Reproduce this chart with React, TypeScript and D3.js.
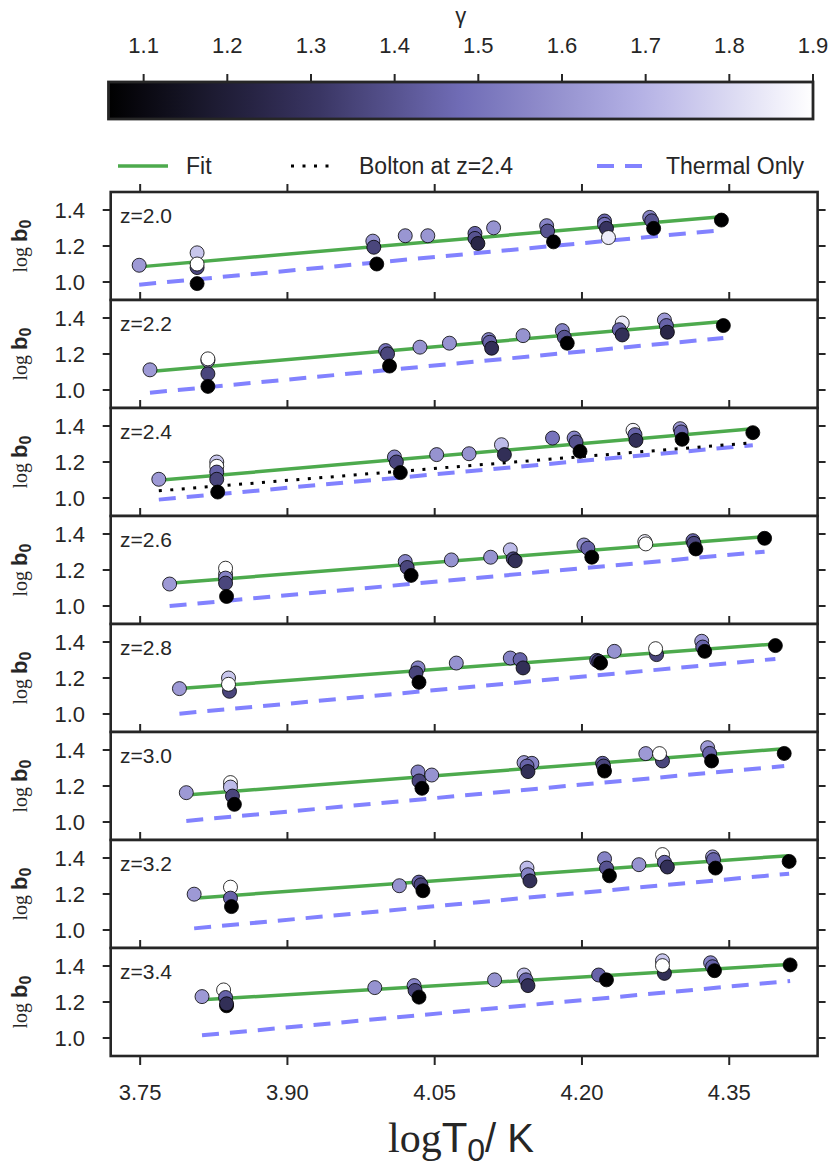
import * as d3 from 'd3';
import React from 'react';

// ---- data ----
const redshifts = ['2.0', '2.2', '2.4', '2.6', '2.8', '3.0', '3.2', '3.4'];
const xTicks = [3.75, 3.9, 4.05, 4.2, 4.35];
const yTicks = [1.0, 1.2, 1.4];
const gammaTicks = [1.1, 1.2, 1.3, 1.4, 1.5, 1.6, 1.7, 1.8, 1.9];

// each point: [log T0, log b0, gamma]
const z20: [number, number, number][] = [
  [3.749, 1.093, 1.62], [3.808, 1.162, 1.75], [3.808, 1.08, 1.36], [3.808, 1.1, 1.9], [3.808, 0.991, 1.06],
  [3.987, 1.227, 1.6], [3.988, 1.193, 1.36], [3.991, 1.1, 1.06],
  [4.02, 1.257, 1.61], [4.043, 1.257, 1.61],
  [4.091, 1.27, 1.45], [4.091, 1.242, 1.4], [4.094, 1.214, 1.24],
  [4.11, 1.301, 1.6],
  [4.164, 1.313, 1.55], [4.165, 1.283, 1.4], [4.171, 1.223, 1.06],
  [4.223, 1.339, 1.45], [4.223, 1.32, 1.5], [4.225, 1.298, 1.3], [4.227, 1.247, 1.85],
  [4.269, 1.359, 1.55], [4.271, 1.34, 1.4], [4.273, 1.298, 1.06],
  [4.342, 1.344, 1.06],
];
const z22: [number, number, number][] = [
  [3.76, 1.112, 1.62], [3.819, 1.164, 1.7], [3.819, 1.173, 1.9], [3.819, 1.09, 1.36], [3.819, 1.02, 1.06],
  [4.0, 1.219, 1.5], [4.002, 1.201, 1.36], [4.004, 1.133, 1.06],
  [4.035, 1.238, 1.6], [4.065, 1.26, 1.6],
  [4.105, 1.28, 1.55], [4.106, 1.265, 1.45], [4.108, 1.232, 1.28],
  [4.14, 1.302, 1.6],
  [4.18, 1.33, 1.55], [4.182, 1.293, 1.4], [4.185, 1.26, 1.06],
  [4.241, 1.372, 1.85], [4.238, 1.335, 1.45], [4.241, 1.306, 1.28],
  [4.284, 1.389, 1.62], [4.286, 1.358, 1.45], [4.287, 1.321, 1.24],
  [4.344, 1.358, 1.06],
];
const z24: [number, number, number][] = [
  [3.769, 1.104, 1.62], [3.828, 1.2, 1.75], [3.828, 1.176, 1.9], [3.828, 1.144, 1.45], [3.828, 1.104, 1.36], [3.829, 1.033, 1.06],
  [4.009, 1.228, 1.55], [4.011, 1.2, 1.36], [4.015, 1.141, 1.06],
  [4.052, 1.241, 1.6], [4.085, 1.246, 1.6],
  [4.118, 1.296, 1.72], [4.121, 1.241, 1.28],
  [4.17, 1.333, 1.5],
  [4.192, 1.333, 1.55], [4.194, 1.311, 1.4], [4.198, 1.259, 1.06],
  [4.252, 1.376, 1.88], [4.254, 1.352, 1.45], [4.255, 1.32, 1.28],
  [4.3, 1.385, 1.62], [4.301, 1.367, 1.45], [4.302, 1.326, 1.06],
  [4.374, 1.363, 1.06],
];
const z26: [number, number, number][] = [
  [3.78, 1.122, 1.62], [3.837, 1.177, 1.75], [3.837, 1.21, 1.9], [3.837, 1.155, 1.55], [3.837, 1.127, 1.36], [3.838, 1.053, 1.06],
  [4.02, 1.247, 1.55], [4.022, 1.214, 1.36], [4.026, 1.17, 1.06],
  [4.067, 1.256, 1.6], [4.107, 1.271, 1.6],
  [4.127, 1.312, 1.72], [4.13, 1.262, 1.36], [4.132, 1.251, 1.28],
  [4.202, 1.339, 1.6], [4.206, 1.321, 1.45], [4.21, 1.271, 1.06],
  [4.264, 1.358, 1.85], [4.265, 1.345, 1.9],
  [4.313, 1.363, 1.45], [4.314, 1.348, 1.36], [4.316, 1.317, 1.06],
  [4.386, 1.376, 1.06],
];
const z28: [number, number, number][] = [
  [3.79, 1.141, 1.62], [3.84, 1.2, 1.75], [3.841, 1.126, 1.36], [3.84, 1.165, 1.9],
  [4.033, 1.256, 1.55], [4.031, 1.228, 1.36], [4.034, 1.176, 1.06],
  [4.072, 1.283, 1.6],
  [4.127, 1.311, 1.55], [4.137, 1.302, 1.45], [4.14, 1.256, 1.28],
  [4.215, 1.298, 1.45], [4.217, 1.293, 1.3], [4.219, 1.283, 1.06],
  [4.233, 1.348, 1.6],
  [4.276, 1.33, 1.36], [4.275, 1.363, 1.9],
  [4.322, 1.404, 1.62], [4.323, 1.372, 1.45], [4.325, 1.348, 1.06],
  [4.397, 1.38, 1.06],
];
const z30: [number, number, number][] = [
  [3.797, 1.163, 1.62], [3.842, 1.219, 1.9], [3.842, 1.194, 1.72], [3.844, 1.144, 1.36], [3.846, 1.098, 1.06],
  [4.033, 1.278, 1.55], [4.034, 1.228, 1.36], [4.037, 1.187, 1.06],
  [4.047, 1.261, 1.6],
  [4.141, 1.33, 1.62], [4.149, 1.326, 1.55], [4.144, 1.311, 1.45], [4.145, 1.28, 1.28],
  [4.221, 1.326, 1.45], [4.222, 1.311, 1.36], [4.223, 1.283, 1.06],
  [4.265, 1.38, 1.62], [4.282, 1.339, 1.36], [4.279, 1.38, 1.9],
  [4.328, 1.413, 1.62], [4.33, 1.381, 1.45], [4.332, 1.339, 1.06],
  [4.406, 1.381, 1.06],
];
const z32: [number, number, number][] = [
  [3.805, 1.199, 1.62], [3.842, 1.238, 1.9], [3.842, 1.177, 1.45], [3.843, 1.13, 1.06],
  [4.014, 1.246, 1.6], [4.034, 1.266, 1.45], [4.036, 1.251, 1.36], [4.038, 1.218, 1.06],
  [4.144, 1.344, 1.72], [4.145, 1.307, 1.55], [4.147, 1.273, 1.28],
  [4.223, 1.396, 1.55], [4.225, 1.344, 1.4], [4.228, 1.301, 1.06],
  [4.258, 1.363, 1.6],
  [4.282, 1.419, 1.9], [4.284, 1.376, 1.45], [4.287, 1.35, 1.28],
  [4.333, 1.406, 1.62], [4.334, 1.391, 1.45], [4.336, 1.344, 1.06],
  [4.411, 1.381, 1.06],
];
const z34: [number, number, number][] = [
  [3.813, 1.23, 1.62], [3.835, 1.267, 1.9], [3.837, 1.225, 1.45], [3.838, 1.179, 1.06], [3.838, 1.19, 1.28],
  [3.989, 1.28, 1.6],
  [4.029, 1.291, 1.55], [4.03, 1.264, 1.36], [4.034, 1.227, 1.06],
  [4.111, 1.323, 1.6],
  [4.141, 1.35, 1.72], [4.143, 1.323, 1.45], [4.145, 1.291, 1.28],
  [4.217, 1.35, 1.45], [4.225, 1.323, 1.06],
  [4.282, 1.429, 1.75], [4.284, 1.359, 1.28], [4.282, 1.402, 1.9],
  [4.331, 1.418, 1.55], [4.333, 1.396, 1.45], [4.335, 1.374, 1.06],
  [4.412, 1.406, 1.06],
];
const panelPoints = [z20, z22, z24, z26, z28, z30, z32, z34];

// [log T0 start, log b0 start, log T0 end, log b0 end]
const fitLines = [
  [3.749, 1.084, 4.342, 1.363],
  [3.76, 1.103, 4.344, 1.38],
  [3.769, 1.098, 4.374, 1.385],
  [3.78, 1.127, 4.386, 1.385],
  [3.79, 1.141, 4.397, 1.389],
  [3.797, 1.15, 4.406, 1.407],
  [3.805, 1.177, 4.411, 1.413],
  [3.813, 1.212, 4.412, 1.409],
];
const thermalLines = [
  [3.749, 0.985, 4.342, 1.288],
  [3.76, 0.985, 4.344, 1.289],
  [3.769, 0.991, 4.374, 1.293],
  [3.78, 1.0, 4.386, 1.302],
  [3.79, 1.002, 4.397, 1.306],
  [3.797, 1.006, 4.406, 1.311],
  [3.805, 1.009, 4.411, 1.313],
  [3.813, 1.015, 4.412, 1.317],
];
const boltonLine = [3.769, 1.04, 4.374, 1.307];
const boltonPanel = 2;

// ---- layout ----
const W = 830;
const H = 1176;
const plotLeft = 110.7;
const plotRight = 817.6;
const panelTop = 192;
const panelH = 108;
const cbLeft = 108.5;
const cbRight = 813;
const cbTop = 82;
const cbBottom = 119;

const SANS = '"Liberation Sans", Arial, Helvetica, sans-serif';
const SERIF = '"Liberation Serif", "Times New Roman", serif';
const SPINE = '#262626';
const TEXT = '#262626';
const FIT = '#4daa4d';
const THERMAL = '#8282ff';
const TICK_FONT = 22;

const xScale = d3.scaleLinear().domain([3.72, 4.44]).range([plotLeft, plotRight]);
const gammaScale = d3.scaleLinear().domain([1.058, 1.9]).range([cbLeft, cbRight]);
const gammaColor = d3
  .scaleLinear<string>()
  .domain([1.058, 1.3, 1.479, 1.7, 1.9])
  .range(['#000000', '#37335f', '#706cb6', '#b6b3e6', '#ffffff'])
  .interpolate(d3.interpolateRgb);

const Panel = ({ i }: { i: number }) => {
  const top = panelTop + i * panelH;
  const yScale = d3.scaleLinear().domain([0.9, 1.5]).range([top + panelH, top]);
  const line = d3
    .line<number[]>()
    .x(d => xScale(d[0]))
    .y(d => yScale(d[1]));
  const seg = (l: number[]) => line([[l[0], l[1]], [l[2], l[3]]]) || '';
  const last = i === redshifts.length - 1;
  return (
    <g>
      <rect x={plotLeft} y={top} width={plotRight - plotLeft} height={panelH} fill="#fff" />
      {/* top ticks, pointing out */}
      {xTicks.map(t => (
        <line key={'tt' + t} x1={xScale(t)} x2={xScale(t)} y1={top} y2={top - 8} stroke={SPINE} strokeWidth={2} />
      ))}
      {last &&
        xTicks.map(t => (
          <g key={'bt' + t}>
            <line x1={xScale(t)} x2={xScale(t)} y1={top + panelH} y2={top + panelH + 9} stroke={SPINE} strokeWidth={2} />
            <text x={xScale(t)} y={top + panelH + 44} textAnchor="middle" fontFamily={SANS} fontSize={TICK_FONT} fill={TEXT}>
              {d3.format('.2f')(t)}
            </text>
          </g>
        ))}
      {yTicks.map(t => (
        <g key={'y' + t}>
          <line x1={plotLeft} x2={plotLeft - 8} y1={yScale(t)} y2={yScale(t)} stroke={SPINE} strokeWidth={2} />
          <line x1={plotRight} x2={plotRight + 8} y1={yScale(t)} y2={yScale(t)} stroke={SPINE} strokeWidth={2} />
          <text x={85} y={yScale(t) + 8} textAnchor="end" fontFamily={SANS} fontSize={TICK_FONT} fill={TEXT}>
            {d3.format('.1f')(t)}
          </text>
        </g>
      ))}
      <path d={seg(thermalLines[i])} stroke={THERMAL} strokeWidth={4} strokeDasharray="17 11" fill="none" />
      {i === boltonPanel && (
        <path d={seg(boltonLine)} stroke="#000" strokeWidth={3} strokeDasharray="3 8.5" fill="none" />
      )}
      <path d={seg(fitLines[i])} stroke={FIT} strokeWidth={3.5} fill="none" />
      {panelPoints[i].map((p, k) => (
        <circle key={k} cx={xScale(p[0])} cy={yScale(p[1])} r={7} fill={gammaColor(p[2])} stroke="#000" strokeWidth={0.8} />
      ))}
      <rect x={plotLeft} y={top} width={plotRight - plotLeft} height={panelH} fill="none" stroke={SPINE} strokeWidth={2.6} />
      <text x={120} y={top + 31} fontFamily={SANS} fontSize={21} fill={TEXT}>
        z={redshifts[i]}
      </text>
      <text transform={`translate(27,${top + panelH / 2}) rotate(-90)`} textAnchor="middle" fill={TEXT}>
        <tspan fontFamily={SERIF} fontSize={20}>log</tspan>
        <tspan fontFamily={SANS} fontWeight="bold" fontSize={22} dx={5}>b</tspan>
        <tspan fontFamily={SANS} fontWeight="bold" fontSize={16} dy={4}>0</tspan>
      </text>
    </g>
  );
};

const App = () => {
  const stops = d3.range(0, 1.0001, 0.05);
  return (
    <svg width={W} height={H} style={{ position: 'absolute', left: 0, top: 0, background: '#fff' }}>
      <defs>
        <linearGradient id="cb" x1="0" x2="1" y1="0" y2="0">
          {stops.map(s => (
            <stop key={s} offset={s} stopColor={gammaColor(1.058 + s * (1.9 - 1.058))} />
          ))}
        </linearGradient>
      </defs>
      <rect width={W} height={H} fill="#fff" />

      {/* colorbar */}
      <text x={(cbLeft + cbRight) / 2} y={23} textAnchor="middle" fontFamily={SANS} fontSize={22} fill={TEXT}>
        γ
      </text>
      {gammaTicks.map(t => (
        <g key={t}>
          <line x1={gammaScale(t)} x2={gammaScale(t)} y1={cbTop} y2={cbTop - 8} stroke={SPINE} strokeWidth={2} />
          <text x={gammaScale(t)} y={53} textAnchor="middle" fontFamily={SANS} fontSize={TICK_FONT} fill={TEXT}>
            {d3.format('.1f')(t)}
          </text>
        </g>
      ))}
      <rect x={cbLeft} y={cbTop} width={cbRight - cbLeft} height={cbBottom - cbTop} fill="url(#cb)" stroke={SPINE} strokeWidth={2.8} />

      {/* legend */}
      <line x1={118} x2={168} y1={166} y2={166} stroke={FIT} strokeWidth={3.5} />
      <text x={186} y={174} fontFamily={SANS} fontSize={23} fill={TEXT}>Fit</text>
      <line x1={291} x2={334} y1={166} y2={166} stroke="#000" strokeWidth={3} strokeDasharray="3 8.5" />
      <text x={359} y={174} fontFamily={SANS} fontSize={23} fill={TEXT}>Bolton at z=2.4</text>
      <line x1={597} x2={647} y1={166} y2={166} stroke={THERMAL} strokeWidth={4} strokeDasharray="17 11" />
      <text x={666} y={174} fontFamily={SANS} fontSize={23} fill={TEXT}>Thermal Only</text>

      {redshifts.map((_, i) => (
        <Panel key={i} i={i} />
      ))}

      {/* x label */}
      <text x={461} y={1152} textAnchor="middle" fill={TEXT}>
        <tspan fontFamily={SERIF} fontSize={42}>log</tspan>
        <tspan fontFamily={SANS} fontSize={42}>T</tspan>
        <tspan fontFamily={SANS} fontSize={32} dy={9}>0</tspan>
        <tspan fontFamily={SANS} fontSize={40} dy={-9}>/ K</tspan>
      </text>
    </svg>
  );
};

export default App;
